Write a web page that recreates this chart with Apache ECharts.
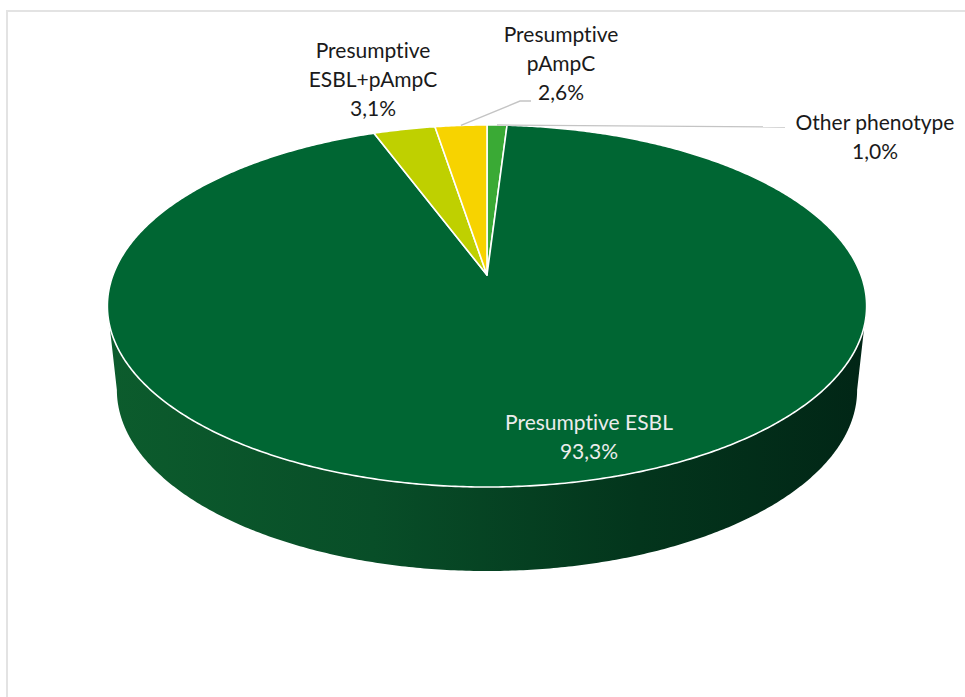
<!DOCTYPE html>
<html>
<head>
<meta charset="utf-8">
<script src="https://cdn.jsdelivr.net/npm/echarts@6/dist/echarts.min.js"></script>
<style>
  html, body { margin: 0; padding: 0; background: #ffffff; }
  #chart { width: 965px; height: 697px; }
  #chart text { font-variant-ligatures: none !important; font-feature-settings: "liga" 0, "clig" 0 !important; }
</style>
</head>
<body>
<div id="chart"></div>
<script>
// Phenotype shares (%), listed clockwise starting at 12 o'clock
const categories = ['Other phenotype', 'Presumptive ESBL', 'Presumptive ESBL+pAmpC', 'Presumptive pAmpC'];
const shares = [1.0, 93.3, 3.1, 2.6];
const labelTexts = ['Other phenotype', 'Presumptive ESBL', 'Presumptive\nESBL+pAmpC', 'Presumptive\npAmpC'];
const sliceColors = ['#3aaa35', '#006633', '#bfd000', '#f7d300'];

// Tilted-disc geometry (pixels) and label placement
const P = {
  cx: 487, cy: 275,      // projected centre of the top face
  A: 374, B: 175.7,      // horizontal / vertical projection factors
  k: 0.1713,             // perspective strength
  depth: 84,             // thickness of the disc
  bottomScale: 0.975
};
const labelPos = [
  { x: 875, y: 136, color: '#1a1a1a', leader: [[785, 127]] },
  { x: 589, y: 436, color: '#ececec' },
  { x: 373, y: 78, color: '#1a1a1a' },
  { x: 561, y: 62, color: '#1a1a1a', leader: [[520, 101], [531, 101]] }
];
const FONT = '21px Lato, "Open Sans", sans-serif';

function project(theta, bottom) {
  const u = Math.sin(theta), v = -Math.cos(theta);
  const w = 1 - P.k * v;
  const sx = bottom ? P.bottomScale : 1;
  return [P.cx + sx * P.A * u / w, P.cy + P.B * v / w + (bottom ? P.depth : 0)];
}
function arc(a0, a1, bottom) {
  const n = Math.max(2, Math.ceil((a1 - a0) / (Math.PI / 360)));
  const pts = [];
  for (let j = 0; j <= n; j++) pts.push(project(a0 + (a1 - a0) * j / n, bottom));
  return pts;
}
// angles where the side silhouette touches the top face
const thR = Math.acos(-P.k);
const thL = 2 * Math.PI - thR;

// cumulative [start, end, index] rows built from the shares
const rows = [];
let acc = 0;
shares.forEach((s, i) => { rows.push([acc, acc + s, i]); acc += s; });

const wallFill = {
  type: 'linear', x: 0, y: 0, x2: 1, y2: 0,
  colorStops: [
    { offset: 0, color: '#0c5c2d' },
    { offset: 0.35, color: '#084e28' },
    { offset: 0.7, color: '#03351c' },
    { offset: 1, color: '#012616' }
  ]
};

function fmt(v) { return v.toFixed(1).replace('.', ',') + '%'; }

const chart = echarts.init(document.getElementById('chart'), null, { renderer: 'svg' });
chart.setOption({
  backgroundColor: '#ffffff',
  animation: false,
  graphic: [{
    type: 'rect', silent: true, z: 0,
    shape: { x: 7, y: 11, width: 1200, height: 1200 },
    style: { fill: 'none', stroke: '#e3e3e3', lineWidth: 2 }
  }],
  series: [{
    type: 'custom',
    coordinateSystem: 'none',
    data: rows,
    renderItem: function (params, api) {
      const a0 = api.value(0) / 100 * 2 * Math.PI;
      const a1 = api.value(1) / 100 * 2 * Math.PI;
      const i = api.value(2);
      const children = [];
      const s0 = Math.max(a0, thR), s1 = Math.min(a1, thL);
      if (s1 > s0) {
        const top = arc(s0, s1, false);
        const bot = arc(s0, s1, true).reverse();
        children.push({ type: 'polygon', z2: 1, shape: { points: top.concat(bot) }, style: { fill: wallFill } });
      }
      const face = [[P.cx, P.cy]].concat(arc(a0, a1, false));
      children.push({
        type: 'polygon', z2: 2, shape: { points: face },
        style: { fill: sliceColors[i], stroke: '#ffffff', lineWidth: 1.6, lineJoin: 'round' }
      });
      const lp = labelPos[i];
      if (lp.leader) {
        const mid = project((a0 + a1) / 2, false);
        children.push({
          type: 'polyline', z2: 5, shape: { points: [mid].concat(lp.leader) },
          style: { stroke: '#c4c4c4', lineWidth: 1.4, fill: null }
        });
      }
      children.push({
        type: 'text', z2: 6,
        style: {
          text: labelTexts[i] + '\n' + fmt(shares[i]),
          x: lp.x, y: lp.y, align: 'center', verticalAlign: 'middle',
          font: FONT, lineHeight: 29, fill: lp.color
        }
      });
      return { type: 'group', children: children };
    }
  }]
});
</script>
</body>
</html>
